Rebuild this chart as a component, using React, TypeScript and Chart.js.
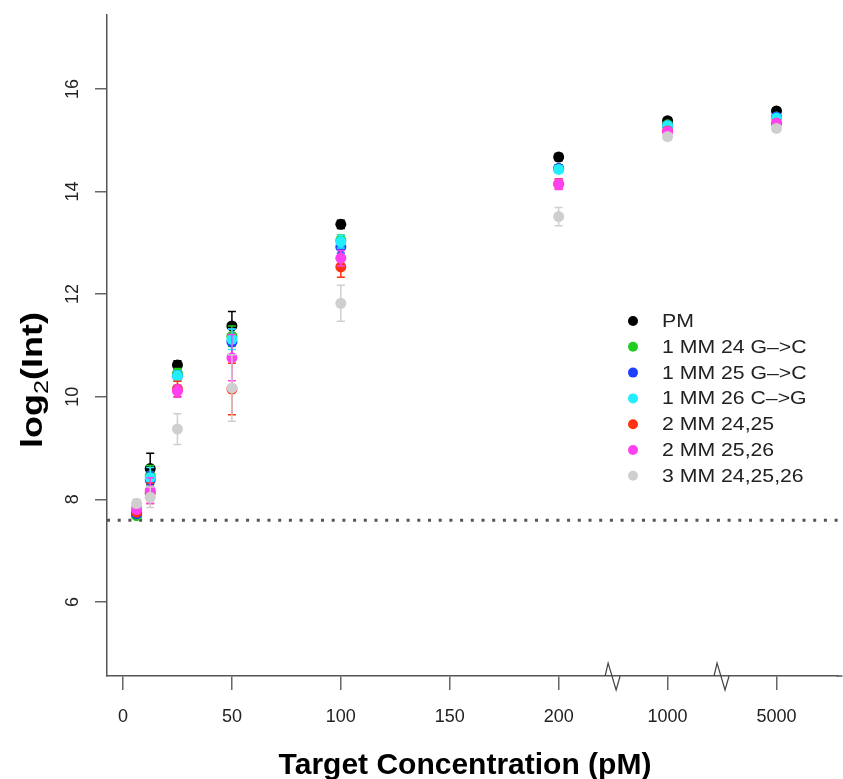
import React, { useEffect, useRef } from "react";
import { Chart, registerables } from "chart.js";

Chart.register(...registerables);

// ---------- data ----------
const concentrations = [6.25, 12.5, 25, 50, 100, 200, 1000, 5000];
// broken x axis: linear 0..200, then 1000 and 5000 placed at 250 and 300
const axisPositions = [6.25, 12.5, 25, 50, 100, 200, 250, 300];
const xTickPositions = [0, 50, 100, 150, 200, 250, 300];
const xTickLabels = ["0", "50", "100", "150", "200", "1000", "5000"];
const axisBreakPositions = [225, 275];
const yTickValues = [6, 8, 10, 12, 14, 16];
const backgroundLevel = 7.59;

const seriesLabels = [
  "PM",
  "1 MM 24 G\u2013>C",
  "1 MM 25 G\u2013>C",
  "1 MM 26 C\u2013>G",
  "2 MM 24,25",
  "2 MM 25,26",
  "3 MM 24,25,26",
];
const seriesColors = ["#000000", "#22cc22", "#1f3fff", "#22eeff", "#ff3311", "#ff40f0", "#cfcfcf"];

const pmValues = [7.7, 8.6, 10.62, 11.38, 13.36, 14.67, 15.38, 15.57];
const mm24Values = [7.68, 8.46, 10.45, 11.18, 13.05, 14.45, 15.3, 15.45];
const mm25Values = [7.72, 8.38, 10.4, 11.07, 12.92, 14.45, 15.28, 15.45];
const mm26Values = [7.84, 8.42, 10.4, 11.12, 13.02, 14.43, 15.28, 15.43];
const mm2425Values = [7.75, 8.12, 10.15, 10.15, 12.53, 14.15, 15.18, 15.33];
const mm2526Values = [7.8, 8.17, 10.11, 10.76, 12.7, 14.14, 15.17, 15.33];
const mm3Values = [7.92, 8.04, 9.37, 10.17, 11.82, 13.51, 15.07, 15.23];

const pmErr = [0.05, 0.3, 0.08, 0.28, 0.08, 0.07, 0.05, 0.05];
const mm24Err = [0.05, 0.2, 0.1, 0.2, 0.1, 0.07, 0.05, 0.05];
const mm25Err = [0.05, 0.15, 0.1, 0.25, 0.12, 0.07, 0.05, 0.05];
const mm26Err = [0.05, 0.2, 0.1, 0.2, 0.12, 0.07, 0.05, 0.05];
const mm2425Err = [0.05, 0.2, 0.15, 0.5, 0.2, 0.1, 0.05, 0.05];
const mm2526Err = [0.05, 0.25, 0.12, 0.45, 0.15, 0.1, 0.05, 0.05];
const mm3Err = [0.08, 0.2, 0.3, 0.65, 0.35, 0.18, 0.06, 0.06];

const seriesValues = [pmValues, mm24Values, mm25Values, mm26Values, mm2425Values, mm2526Values, mm3Values];
const seriesErrors = [pmErr, mm24Err, mm25Err, mm26Err, mm2425Err, mm2526Err, mm3Err];

const X_MIN = -7.34;
const X_MAX = 328.0;
const X_LINE_END = 330.3;
const Y_MIN = 4.556;
const Y_MAX = 17.44;

const FONT = "'Liberation Sans', Arial, Helvetica, sans-serif";

const customPlugin = {
  id: "custom",
  beforeDatasetDraw(chart: any, args: any) {
    const ds = chart.data.datasets[args.index];
    if (!ds.errors) return;
    const { ctx } = chart;
    const xs = chart.scales.x;
    const ys = chart.scales.y;
    ctx.save();
    ctx.strokeStyle = ds.backgroundColor;
    ctx.lineWidth = 1.5;
    ds.data.forEach((p: any, i: number) => {
      const e = ds.errors[i];
      const x = xs.getPixelForValue(p.x);
      const y1 = ys.getPixelForValue(p.y - e);
      const y2 = ys.getPixelForValue(p.y + e);
      ctx.beginPath();
      ctx.moveTo(x, y1);
      ctx.lineTo(x, y2);
      ctx.moveTo(x - 4, y1);
      ctx.lineTo(x + 4, y1);
      ctx.moveTo(x - 4, y2);
      ctx.lineTo(x + 4, y2);
      ctx.stroke();
    });
    ctx.restore();
  },
  afterDraw(chart: any) {
    const { ctx, chartArea } = chart;
    const xs = chart.scales.x;
    const ys = chart.scales.y;
    ctx.save();
    // extend x axis line to the right edge
    ctx.strokeStyle = "#555";
    ctx.lineWidth = 1.5;
    ctx.beginPath();
    ctx.moveTo(chartArea.right - 1, chartArea.bottom);
    ctx.lineTo(xs.getPixelForValue(X_LINE_END), chartArea.bottom);
    ctx.stroke();
    // axis breaks
    ctx.strokeStyle = "#444";
    ctx.lineWidth = 1.2;
    axisBreakPositions.forEach((b) => {
      const cx = xs.getPixelForValue(b);
      const by = chartArea.bottom;
      ctx.beginPath();
      ctx.moveTo(cx - 8, by);
      ctx.lineTo(cx - 5, by - 13);
      ctx.lineTo(cx + 3, by + 14);
      ctx.lineTo(cx + 7, by);
      ctx.stroke();
    });
    // y tick labels (rotated)
    ctx.fillStyle = "#222";
    ctx.font = `18px ${FONT}`;
    ctx.textAlign = "center";
    ctx.textBaseline = "middle";
    ys.ticks.forEach((t: any) => {
      const y = ys.getPixelForValue(t.value);
      ctx.save();
      ctx.translate(73, y);
      ctx.rotate(-Math.PI / 2);
      ctx.fillText(String(t.value), 0, 0);
      ctx.restore();
    });
    // y title log2(Int)
    ctx.save();
    ctx.translate(42, 380);
    ctx.rotate(-Math.PI / 2);
    ctx.scale(1.2, 1);
    ctx.fillStyle = "#000";
    ctx.textBaseline = "alphabetic";
    ctx.textAlign = "left";
    const big = `bold 30px ${FONT}`;
    const small = `21px ${FONT}`;
    ctx.font = big;
    const w1 = ctx.measureText("log").width;
    const w3 = ctx.measureText("(Int)").width;
    ctx.font = small;
    const w2 = ctx.measureText("2").width;
    const total = w1 + w2 + w3;
    let px = -total / 2;
    ctx.font = big;
    ctx.fillText("log", px, 0);
    px += w1;
    ctx.font = small;
    ctx.fillText("2", px, 6);
    px += w2;
    ctx.font = big;
    ctx.fillText("(Int)", px, 0);
    ctx.restore();
    // x title
    ctx.fillStyle = "#000";
    ctx.font = `bold 30px ${FONT}`;
    ctx.textAlign = "center";
    ctx.textBaseline = "alphabetic";
    ctx.fillText("Target Concentration (pM)", 465, 774);
    // legend
    ctx.font = `18px ${FONT}`;
    ctx.textAlign = "left";
    ctx.textBaseline = "middle";
    seriesLabels.forEach((lab, i) => {
      const y = 321 + 25.8 * i;
      ctx.fillStyle = seriesColors[i];
      ctx.beginPath();
      ctx.arc(633, y, 5, 0, Math.PI * 2);
      ctx.fill();
      ctx.fillStyle = "#222";
      ctx.save();
      ctx.translate(662, y + 1);
      ctx.scale(1.18, 1);
      ctx.fillText(lab, 0, 0);
      ctx.restore();
    });
    ctx.restore();
  },
};

export default function App() {
  const canvasRef = useRef<HTMLCanvasElement | null>(null);

  useEffect(() => {
    if (!canvasRef.current) return;
    const datasets: any[] = seriesLabels.map((label, s) => ({
      type: "scatter",
      label,
      data: axisPositions.map((x, i) => ({ x, y: seriesValues[s][i] })),
      errors: seriesErrors[s],
      backgroundColor: seriesColors[s],
      borderColor: seriesColors[s],
      borderWidth: 0,
      pointRadius: 5.5,
      pointHoverRadius: 5.5,
      order: seriesLabels.length - s,
    }));
    datasets.push({
      type: "line",
      label: "background",
      data: [
        { x: X_MIN, y: backgroundLevel },
        { x: X_LINE_END, y: backgroundLevel },
      ],
      borderColor: "#555",
      borderWidth: 3,
      borderDash: [3, 7.7],
      pointRadius: 0,
      fill: false,
      clip: false,
      order: 100,
    });

    const chart = new Chart(canvasRef.current, {
      type: "scatter",
      data: { datasets },
      plugins: [customPlugin],
      options: {
        animation: false,
        responsive: false,
        layout: { padding: { top: 15, right: 0, left: 0, bottom: 0 } },
        plugins: { legend: { display: false }, tooltip: { enabled: false } },
        scales: {
          x: {
            type: "linear",
            min: X_MIN,
            max: X_MAX,
            afterBuildTicks: (scale: any) => {
              scale.ticks = xTickPositions.map((v) => ({ value: v }));
            },
            afterFit: (scale: any) => {
              scale.height = 103;
            },
            border: { display: true, color: "#555", width: 1.5 },
            grid: { display: true, drawOnChartArea: false, drawTicks: true, tickLength: 14, color: "#666", lineWidth: 1.5 },
            ticks: {
              autoSkip: false,
              maxRotation: 0,
              minRotation: 0,
              padding: 16,
              color: "#222",
              font: { size: 18, family: FONT },
              callback: (v: any) => {
                const i = xTickPositions.indexOf(Number(v));
                return i >= 0 ? xTickLabels[i] : "";
              },
            },
          },
          y: {
            type: "linear",
            min: Y_MIN,
            max: Y_MAX,
            afterBuildTicks: (scale: any) => {
              scale.ticks = yTickValues.map((v) => ({ value: v }));
            },
            afterFit: (scale: any) => {
              scale.width = 107;
            },
            border: { display: true, color: "#555", width: 1.5 },
            grid: { display: true, drawOnChartArea: false, drawTicks: true, tickLength: 12, color: "#666", lineWidth: 1.5 },
            ticks: { display: false },
          },
        },
      } as any,
    });
    return () => chart.destroy();
  }, []);

  return (
    <div style={{ position: "absolute", left: 0, top: 0, width: 843, height: 779, background: "#fff" }}>
      <canvas ref={canvasRef} width={843} height={779} style={{ display: "block" }} />
    </div>
  );
}
